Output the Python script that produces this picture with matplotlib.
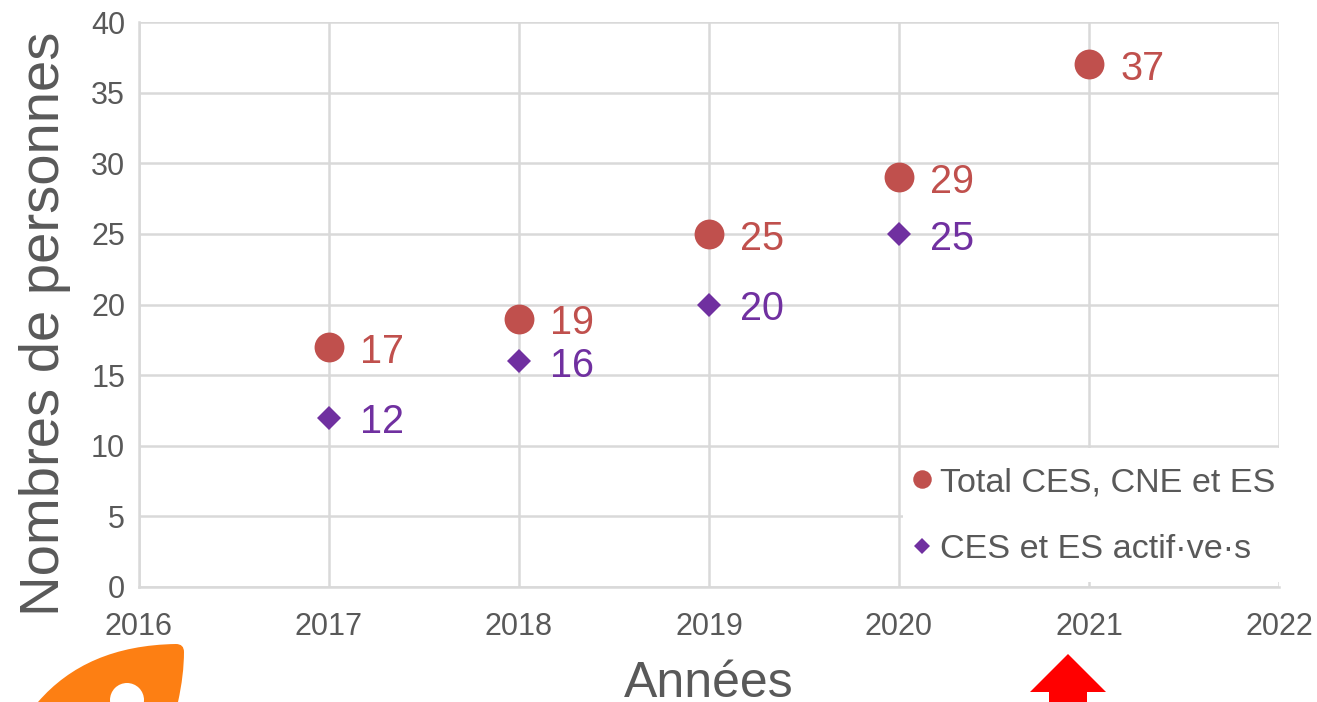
import matplotlib
matplotlib.use('Agg')
import matplotlib.pyplot as plt
from matplotlib.patches import Polygon, PathPatch, Ellipse, Rectangle
from matplotlib.path import Path

plt.rcParams['font.family'] = ['Liberation Sans', 'DejaVu Sans']

W, H = 1317, 702
GREY = '#595959'
GRID = '#d9d9d9'
RED = '#c0504d'
PURPLE = '#7030a0'

years_total = [2017, 2018, 2019, 2020, 2021]
total = [17, 19, 25, 29, 37]
years_actifs = [2017, 2018, 2019, 2020]
actifs = [12, 16, 20, 25]
x_ticks = [2016, 2017, 2018, 2019, 2020, 2021, 2022]
y_ticks = [0, 5, 10, 15, 20, 25, 30, 35, 40]


def px(x, y):
    # picture pixels (from top left) to figure fractions
    return (x / W, 1 - y / H)


fig = plt.figure(figsize=(W / 100, H / 100), dpi=100)
ax = fig.add_axes([139 / W, 1 - 587 / H, 1140 / W, 565 / H])

ax.set_xlim(2016, 2022)
ax.set_ylim(0, 40)
ax.set_xticks(x_ticks)
ax.set_yticks(y_ticks)
ax.grid(True, color=GRID, lw=1.8)
ax.set_axisbelow(True)
for side in ['top', 'left', 'right', 'bottom']:
    ax.spines[side].set_color(GRID)
    ax.spines[side].set_linewidth(1.8)
ax.spines['top'].set_visible(False)
ax.spines['right'].set_visible(False)
ax.tick_params(length=0, labelsize=22, labelcolor=GREY)
ax.tick_params(axis='x', pad=18)
ax.tick_params(axis='y', pad=10)

ax.plot(years_total, total, 'o', color=RED, ms=21.5, mew=0, clip_on=False,
        label='Total CES, CNE et ES', zorder=3)
ax.plot(years_actifs, actifs, 'D', color=PURPLE, ms=12.5, mew=0,
        label='CES et ES actif·ve·s', zorder=3)

# value labels to the right of the points
for x, y in zip(years_total, total):
    ax.annotate(str(y), (x, y), xytext=(22.5, -3.5), textcoords='offset points',
                color=RED, fontsize=28.5, va='center')
for x, y in zip(years_actifs, actifs):
    ax.annotate(str(y), (x, y), xytext=(22.5, -3.5), textcoords='offset points',
                color=PURPLE, fontsize=28.5, va='center')

ax.set_ylabel('Nombres de personnes', fontsize=40.5, color=GREY)
ax.yaxis.set_label_coords(-68 / 1140, 0.465)
ax.set_xlabel('Années', fontsize=36, color=GREY)
ax.xaxis.set_label_coords(570 / 1140, -97 / 565)
ax.xaxis.label.set_va('center')

# white box behind the legend, it hides the grid there
box_xy = px(903, 582)
ax.add_patch(Rectangle(box_xy, 376 / W, 134 / H, facecolor='white', edgecolor='none',
                       transform=fig.transFigure, zorder=2.5, clip_on=False))
leg = ax.legend(loc='upper left', bbox_to_anchor=px(904, 467),
                bbox_transform=fig.transFigure, fontsize=24.6, labelcolor=GREY,
                frameon=False, handletextpad=0.0, labelspacing=1.04, borderpad=0,
                borderaxespad=0, markerscale=0.62, handlelength=1.05)
leg.set_zorder(5)

# red arrow at the bottom, cut by the edge of the picture
arrow = [(1068, 654), (1106, 692), (1087, 692), (1087, 702), (1049, 702), (1049, 692), (1030, 692)]
fig.add_artist(Polygon([px(*p) for p in arrow], closed=True, color='#ff0000', lw=0,
                       transform=fig.transFigure))

# orange logo, cut by the edge of the picture
verts = [(38, 702), (70, 665), (115, 645), (176, 644), (184, 644), (184, 652),
         (184, 675), (178, 702), (38, 702)]
codes = [Path.MOVETO, Path.CURVE4, Path.CURVE4, Path.CURVE4, Path.CURVE3, Path.CURVE3,
         Path.CURVE3, Path.CURVE3, Path.CLOSEPOLY]
logo = Path([px(*p) for p in verts], codes)
fig.add_artist(PathPatch(logo, facecolor='#fd7f13', lw=0, transform=fig.transFigure))
fig.add_artist(Ellipse(px(127, 700), 34 / W, 34 / H, facecolor='white', lw=0,
                       transform=fig.transFigure))

fig.savefig('out.png', dpi=100)
